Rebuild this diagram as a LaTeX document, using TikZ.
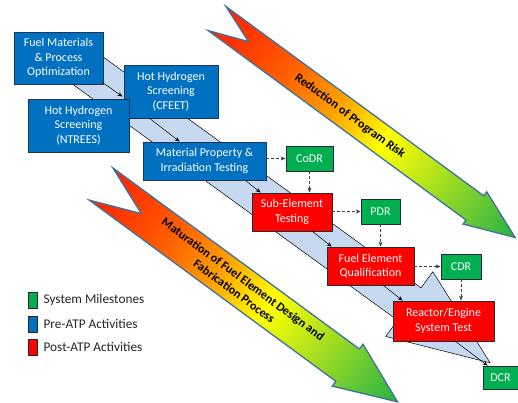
\documentclass[tikz,border=0pt]{standalone}
\usepackage{fontspec}
\setmainfont{Carlito}
\usetikzlibrary{arrows.meta,positioning,calc}

\definecolor{preblue}{HTML}{0070C0}
\definecolor{preedge}{HTML}{1B3552}
\definecolor{postred}{HTML}{FF0000}
\definecolor{msgreen}{HTML}{00B050}
\definecolor{boxedge}{HTML}{2A2A2A}
\definecolor{bandblue}{HTML}{C6D9F1}
\definecolor{arrowedge}{HTML}{41719C}
\definecolor{gRed}{RGB}{255,30,0}
\definecolor{gRedOr}{RGB}{255,95,0}
\definecolor{gOrange}{RGB}{255,160,0}
\definecolor{gYellow}{RGB}{255,255,0}
\definecolor{gLime}{RGB}{190,230,25}
\definecolor{gGreen}{RGB}{35,178,70}
\pgfdeclarehorizontalshading{riskshade}{100bp}{color(0bp)=(gRed); color(25bp)=(gRed); color(37bp)=(gRedOr); color(45bp)=(gOrange); color(53bp)=(gYellow); color(60bp)=(gLime); color(75bp)=(gGreen); color(100bp)=(gGreen)}

\begin{document}
\begin{tikzpicture}[
    x=1pt, y=1pt,
    box/.style={draw, line width=0.8pt, text=white, align=center, inner sep=1pt, font=\fontsize{12}{14.5}\selectfont},
    pre/.style={box, draw=preedge, fill=preblue},
    post/.style={box, draw=boxedge, fill=postred},
    milestone/.style={box, draw=boxedge, fill=msgreen},
    legsq/.style={draw=boxedge, line width=0.8pt, minimum width=9pt, minimum height=16pt, inner sep=0pt},
    legtext/.style={right=6pt, inner sep=0pt, text=black!85, font=\fontsize{13.3}{15}\selectfont},
    flow/.style={line width=0.5pt, -{Stealth[length=5pt,width=4pt]}},
    review/.style={line width=0.6pt, black!75, densely dashed, -{Stealth[length=5pt,width=4pt]}},
    bigarrow/.style={draw=arrowedge, line width=1.3pt, shading=riskshade},
    arrowtext/.style={font=\bfseries\fontsize{12.2}{15}\selectfont, align=center}
  ]
  \useasboundingbox[fill=white] (0,0) rectangle (518,403);

  % risk arrow
  \begin{scope}[transform canvas={shift={(217,384.5)}, rotate=-36.3}]
    \shade[bigarrow] (0,15) -- (320,15) -- (320,20) -- (370,0) -- (320,-20) -- (320,-15) -- (0,-15) -- (39,0) -- cycle;
    \node[arrowtext] (risk) at (165,0) {Reduction of Program Risk};
  \end{scope}

  % maturation arrow
  \begin{scope}[transform canvas={shift={(101,219)}, rotate=-36.3}]
    \shade[bigarrow] (0,20) -- (306,20) -- (306,26) -- (368,0) -- (306,-26) -- (306,-20) -- (0,-20) -- (50,0) -- cycle;
    \node[arrowtext] (matur) at (171,0) {Maturation of Fuel Element Design and\\Fabrication Process};
  \end{scope}

  % light blue band behind the activities
  \begin{scope}[shift={(63,350.5)}, rotate=-36]
    \filldraw[fill=bandblue, draw=black, line width=0.5pt] (0,20) -- (428,20) -- (428,40) -- (528,0) -- (428,-40) -- (428,-20) -- (0,-20) -- cycle;
  \end{scope}

  % activities
  \node[pre, minimum width=89pt, minimum height=52pt] (fuel) at (58.5,345) {Fuel Materials\\\& Process\\Optimization};
  \node[pre, minimum width=94pt, minimum height=53pt] (cfeet) at (171,311.5) {Hot Hydrogen\\Screening\\(CFEET)};
  \node[pre, minimum width=101pt, minimum height=53pt] (ntrees) at (78.5,277.5) {Hot Hydrogen\\Screening\\(NTREES)};
  \node[pre, minimum width=123pt, minimum height=38pt] (matprop) at (204.5,242) {Material Property \&\\Irradiation Testing};
  \node[post, minimum width=80pt, minimum height=38pt] (subel) at (292,191) {Sub-Element\\Testing};
  \node[post, minimum width=87pt, minimum height=38pt] (fuelel) at (370.5,137) {Fuel Element\\Qualification};
  \node[post, minimum width=101pt, minimum height=40pt] (reactor) at (443.5,82) {Reactor/Engine\\System Test};

  % milestones
  \node[milestone, minimum width=47pt, minimum height=25pt] (codr) at (309.5,244.5) {CoDR};
  \node[milestone, minimum width=39pt, minimum height=25pt] (pdr) at (380.5,191.5) {PDR};
  \node[milestone, minimum width=40pt, minimum height=25pt] (cdr) at (461,136.5) {CDR};
  \node[milestone, minimum width=35pt, minimum height=23pt] (dcr) at (500.5,25.5) {DCR};

  % flow between activities
  \draw[flow] ($(fuel.south east)+(-1,2)$) -- ($(ntrees.north east)+(-7,2)$);
  \draw[flow] ($(cfeet.south west)+(26,0)$) -- ($(matprop.north west)+(37,0)$);
  \draw[flow] ($(matprop.south east)+(-21,0)$) -- ($(subel.north west)+(9,0)$);
  \draw[flow] ($(subel.south east)+(-20,0)$) -- ($(fuelel.north west)+(5,0)$);
  \draw[flow] ($(fuelel.south east)+(-31,0)$) -- ($(reactor.north west)+(10,0)$);
  \draw[flow] ($(reactor.south east)+(-39,0)$) -- ($(dcr.north west)+(5,0)$);

  % reviews
  \draw[review] (matprop.east |- codr.west) -- (codr.west);
  \draw[review] (codr.south) -- (codr.south |- subel.north);
  \draw[review] (subel.east |- pdr.west) -- (pdr.west);
  \draw[review] (pdr.south) -- (pdr.south |- fuelel.north);
  \draw[review] (fuelel.east |- cdr.west) -- (cdr.west);
  \draw[review] (cdr.south) -- (cdr.south |- reactor.north);

  % legend
  \node[legsq, fill=msgreen] (lgms) at (32.5,103) {};
  \node[legsq, fill=preblue] (lgpre) at (32.5,79) {};
  \node[legsq, fill=postred] (lgpost) at (32.5,56) {};
  \node[legtext] at (lgms.east) {System Milestones};
  \node[legtext] at (lgpre.east) {Pre-ATP Activities};
  \node[legtext] at (lgpost.east) {Post-ATP Activities};
\end{tikzpicture}
\end{document}
